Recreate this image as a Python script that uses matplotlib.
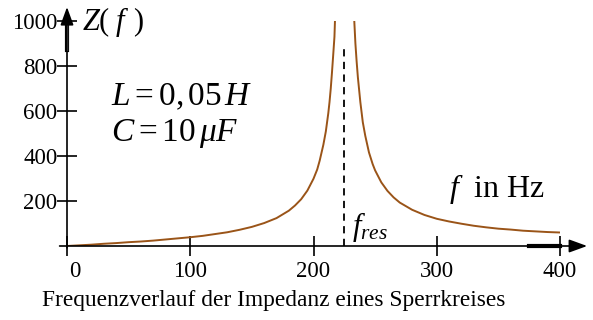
import matplotlib
matplotlib.use("Agg")
import matplotlib.pyplot as plt
from matplotlib.transforms import ScaledTranslation

plt.rcParams['font.family'] = ['Liberation Serif', 'DejaVu Serif']
plt.rcParams['mathtext.fontset'] = 'custom'
plt.rcParams['mathtext.rm'] = 'Liberation Serif'
plt.rcParams['mathtext.it'] = 'Liberation Serif:italic'

# impedance (left branch, right branch of the resonance)
f_left = [0, 10, 20, 30, 40, 50, 60, 70, 80, 90, 100, 110, 120, 130, 140, 150,
          160, 170, 180, 185, 190, 195, 200, 203, 205, 208, 210, 212, 213, 214,
          215, 216, 217, 218]
z_left = [0, 3, 6, 10, 13, 17, 20, 24, 29, 34, 39, 45, 53, 61, 72, 85,
          102, 124, 157, 180, 208, 246, 299, 340, 379, 450, 509, 590, 640, 700,
          772, 850, 930, 1100]
f_right = [232, 233, 234, 235, 236, 238, 240, 242, 245, 248, 250, 255, 260,
           265, 270, 280, 290, 300, 310, 320, 330, 340, 350, 360, 370, 380,
           390, 400]
z_right = [1160, 1010, 900, 820, 750, 640, 550, 490, 416, 364, 336, 283, 245,
           216, 193, 161, 138, 121, 109, 99, 90, 83, 77, 73, 68, 65, 62, 60]

x_ticks = [0, 100, 200, 300, 400]
y_ticks = [200, 400, 600, 800, 1000]
f_res = 225

curve_col = '#9a5418'

fig = plt.figure(figsize=(5.93, 3.2), dpi=100)
ax = fig.add_axes([67 / 593, 74 / 320, 493 / 593, 225 / 320])
ax.set_xlim(0, 400)
ax.set_ylim(0, 1000)
for s in ax.spines.values():
    s.set_visible(False)

ax.plot(f_left, z_left, color=curve_col, lw=1.4)
ax.plot(f_right, z_right, color=curve_col, lw=1.4)

# axes with arrows
ax.annotate('', xy=(422, 0), xytext=(-6, 0), annotation_clip=False,
            arrowprops=dict(arrowstyle='-|>,head_length=1.1,head_width=0.4',
                            color='black', lw=1.2, shrinkA=0, shrinkB=0))
ax.annotate('', xy=(0, 1062), xytext=(0, -8), annotation_clip=False,
            arrowprops=dict(arrowstyle='-|>,head_length=1.1,head_width=0.4',
                            color='black', lw=1.2, shrinkA=0, shrinkB=0))
ax.plot([375, 400], [0, 0], color='black', lw=3, clip_on=False)
ax.plot([0, 0], [870, 1000], color='black', lw=3, clip_on=False)
ax.plot([0, 0], [870, 1000], color='white', lw=0.8, clip_on=False)

ax.set_xticks(x_ticks)
ax.set_yticks(y_ticks)
ax.tick_params(axis='both', direction='inout', length=14, width=1.2,
               labelsize=16.5, pad=4)
ax.tick_params(axis='y', pad=0)
# the "0" label sits a bit right of its tick in the original
lbl0 = ax.get_xticklabels()[0]
lbl0.set_transform(lbl0.get_transform() + ScaledTranslation(0.08, 0, fig.dpi_scale_trans))

# resonance marker
ax.plot([f_res, f_res], [0, 890], color='black', lw=1.3, ls=(0, (4, 3)))
ax.text(f_res + 6, 8, r'$f_{res}$', fontsize=22, ha='left', va='bottom')

ax.text(12, 995, r'$Z(\;f\;\,)$', fontsize=22, ha='left', va='center')
ax.text(36, 660, r'$L = 0{,}\,05\,H$', fontsize=24, ha='left', va='center')
ax.text(36, 500, r'$C = 10\,\mu F$', fontsize=24, ha='left', va='center')
ax.text(310, 255, r'$f$  in Hz', fontsize=23, ha='left', va='center')

fig.text(274 / 593, 0.06, 'Frequenzverlauf der Impedanz eines Sperrkreises',
         fontsize=16.8, ha='center', va='center')

fig.savefig('out.png', dpi=100)
